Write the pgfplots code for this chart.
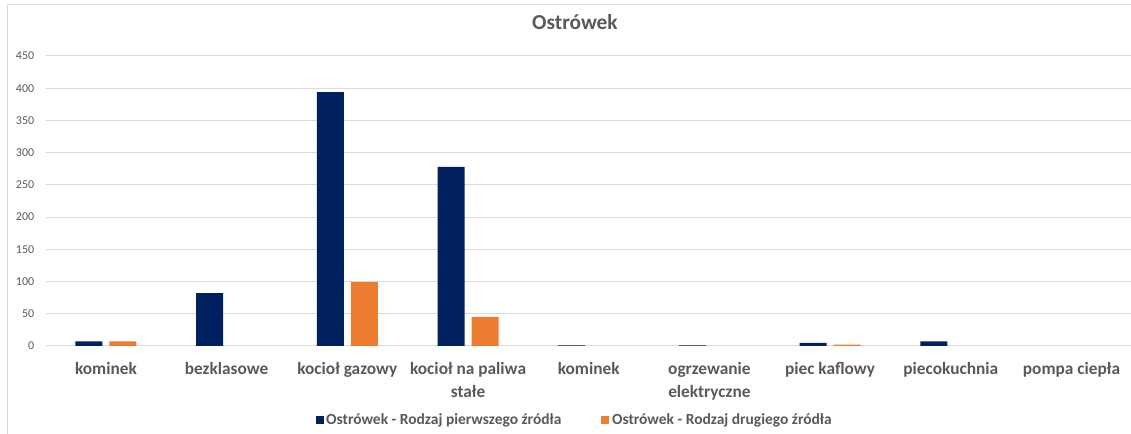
\documentclass[border=0pt]{standalone}
\usepackage{pgfplots}
\pgfplotsset{compat=1.18}
\usepackage{fontspec}
\setmainfont{Carlito}
\definecolor{navy}{HTML}{002060}
\definecolor{orng}{HTML}{ED7D31}
\definecolor{txt}{HTML}{595959}
\definecolor{grd}{HTML}{D9D9D9}
\begin{document}
\begin{tikzpicture}
\path[use as bounding box] (-34.2pt,-66pt) rectangle (814.05pt,259.5pt);
\begin{axis}[
  scale only axis,
  width=814.7pt, height=217.5pt,
  xmin=-0.5, xmax=8.5,
  ymin=0, ymax=450,
  ytick={0,50,...,450},
  xtick={0,...,8},
  xticklabels={kominek, bezklasowe, kocioł gazowy, {kocioł na paliwa\\[0.5pt]stałe}, kominek, {ogrzewanie\\[0.5pt]elektryczne}, piec kaflowy, piecokuchnia, pompa ciepła},
  xticklabel style={align=center, font=\fontsize{13}{16.5}\selectfont\bfseries, text=txt, yshift=-9pt, anchor=north},
  yticklabel style={font=\fontsize{9}{10}\selectfont, text=txt, xshift=-5pt},
  /pgf/number format/assume math mode=true,
  major tick length=0pt,
  axis line style={draw=none},
  ymajorgrids,
  major grid style={draw=grd, line width=0.75pt},
  ybar=5.25pt,
  bar width=20.25pt,
  title={Ostrówek},
  title style={at={(rel axis cs:0.4873,1)}, anchor=center, yshift=19.5pt, font=\fontsize{16}{18}\selectfont\bfseries, text=txt},
  legend columns=2,
  legend style={at={(rel axis cs:0.4873,0)}, anchor=center, yshift=-55.5pt, draw=none, font=\fontsize{11.6}{13}\selectfont\bfseries, text=txt, /tikz/every even column/.append style={column sep=28pt}},
  legend image code/.code={\fill[#1] (4pt,-3pt) rectangle (10pt,3pt);},
  clip=false,
]
\addplot[fill=navy, draw=none] coordinates {(0,7) (1,82) (2,394) (3,278) (4,1) (5,1) (6,5) (7,7)};
\addplot[fill=orng, draw=none] coordinates {(0,7) (2,99) (3,45) (6,2)};
\legend{Ostrówek - Rodzaj pierwszego źródła, Ostrówek - Rodzaj drugiego źródła}
\end{axis}
\draw[grd, line width=0.75pt] (-28.2pt,-80pt) -- (-28.2pt,255.75pt) -- (900pt,255.75pt);
\end{tikzpicture}
\end{document}
